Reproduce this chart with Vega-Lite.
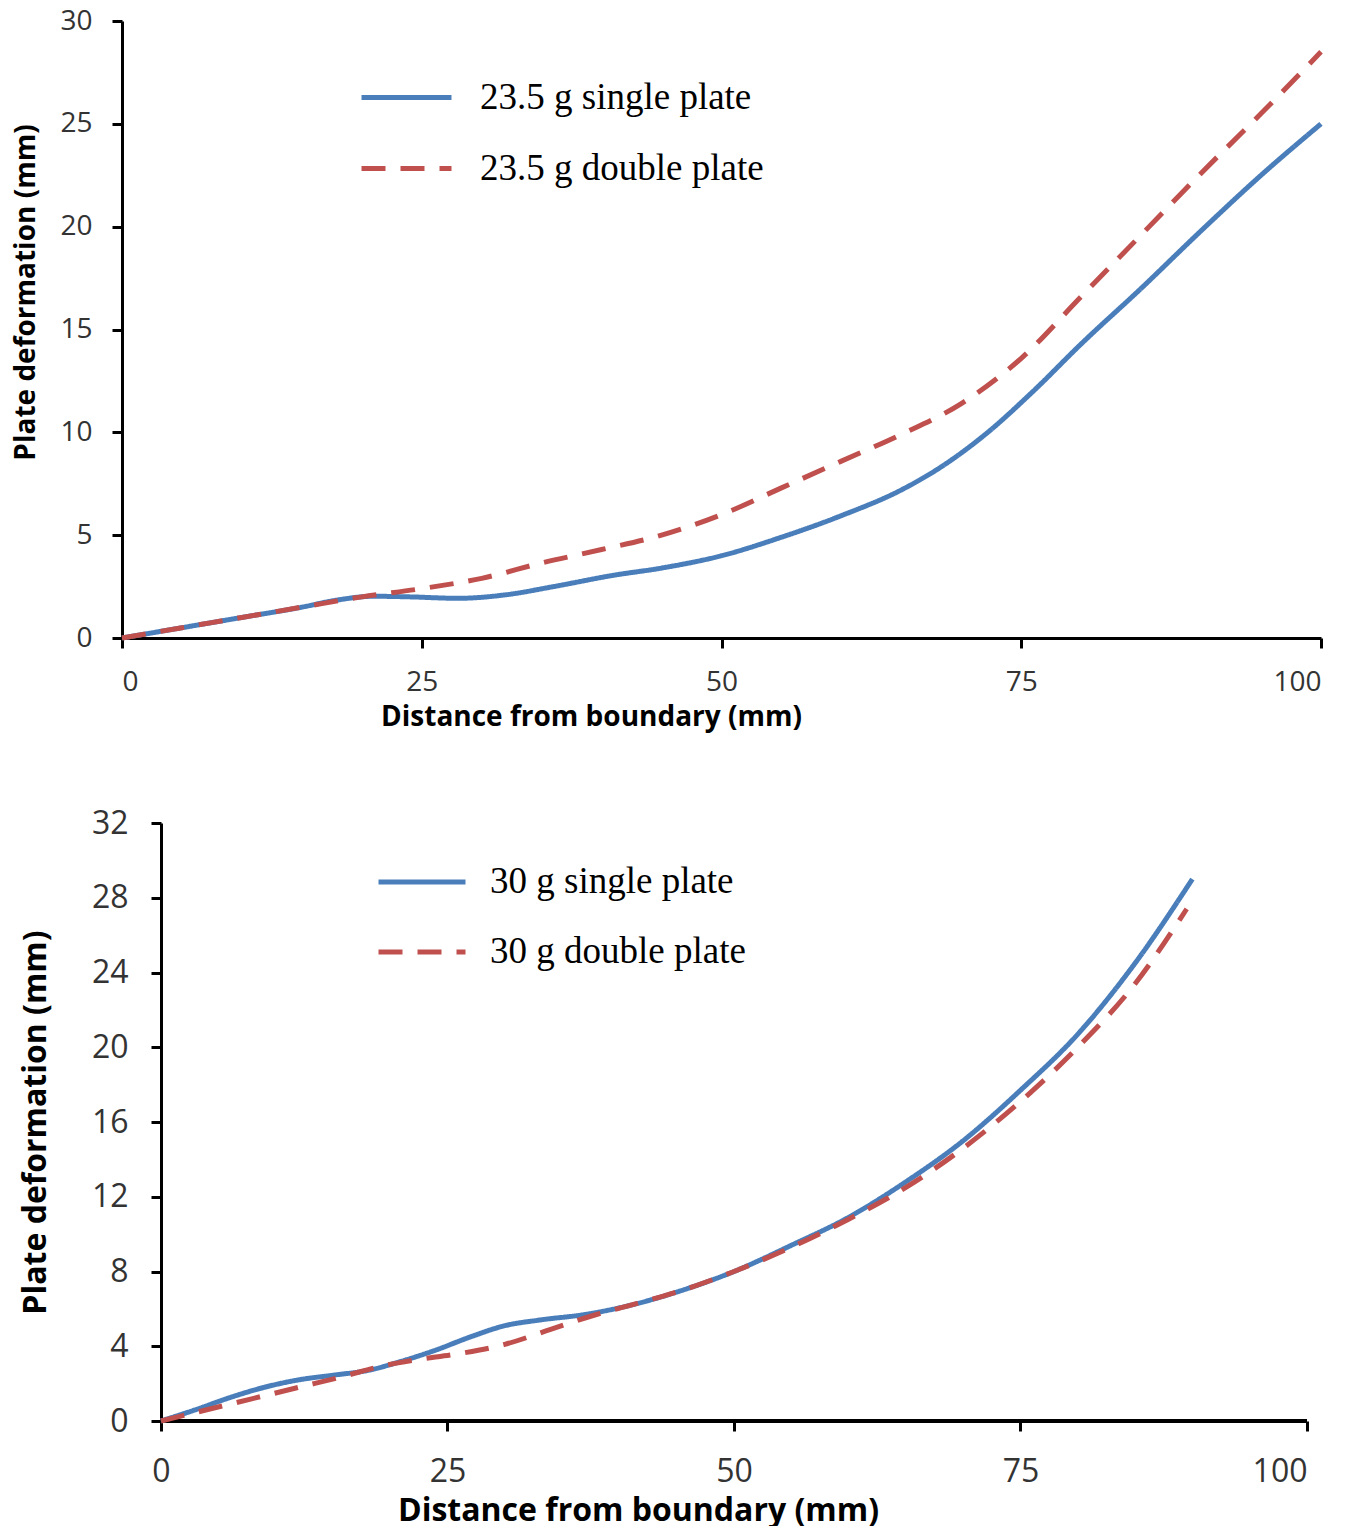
{
  "$schema": "https://vega.github.io/schema/vega-lite/v6.json",
  "background": "white",
  "padding": {"left": 12, "top": 7, "right": 20, "bottom": 0},
  "columns": 1,
  "align": "none",
  "spacing": 76,
  "config": {
    "view": {"stroke": null},
    "axis": {
      "grid": false,
      "domainColor": "black",
      "domainWidth": 3,
      "tickColor": "black",
      "tickWidth": 3,
      "tickSize": 10,
      "labelFont": "Open Sans",
      "labelColor": "#333333",
      "titleFont": "Open Sans",
      "titleFontWeight": "bold",
      "titleColor": "black"
    },
    "legend": {
      "orient": "none",
      "title": null,
      "symbolType": "stroke",
      "symbolSize": 8100,
      "symbolStrokeWidth": 5,
      "labelFont": "Liberation Serif",
      "labelFontSize": 37,
      "labelColor": "black",
      "labelLimit": 0
    }
  },
  "datasets": {
    "top": [
      {"series": "23.5 g single plate", "x": 0, "y": 0},
      {"series": "23.5 g single plate", "x": 5, "y": 0.5},
      {"series": "23.5 g single plate", "x": 10, "y": 1.0},
      {"series": "23.5 g single plate", "x": 15, "y": 1.5},
      {"series": "23.5 g single plate", "x": 18, "y": 1.85},
      {"series": "23.5 g single plate", "x": 21, "y": 2.03},
      {"series": "23.5 g single plate", "x": 24, "y": 2.0},
      {"series": "23.5 g single plate", "x": 28, "y": 1.93},
      {"series": "23.5 g single plate", "x": 32, "y": 2.1},
      {"series": "23.5 g single plate", "x": 36, "y": 2.5},
      {"series": "23.5 g single plate", "x": 41, "y": 3.05},
      {"series": "23.5 g single plate", "x": 45, "y": 3.4},
      {"series": "23.5 g single plate", "x": 50, "y": 4.0},
      {"series": "23.5 g single plate", "x": 55, "y": 4.9},
      {"series": "23.5 g single plate", "x": 60, "y": 5.95},
      {"series": "23.5 g single plate", "x": 65, "y": 7.2},
      {"series": "23.5 g single plate", "x": 68, "y": 8.2},
      {"series": "23.5 g single plate", "x": 72, "y": 9.9},
      {"series": "23.5 g single plate", "x": 76, "y": 12.0},
      {"series": "23.5 g single plate", "x": 80, "y": 14.3},
      {"series": "23.5 g single plate", "x": 85, "y": 17.0},
      {"series": "23.5 g single plate", "x": 90, "y": 19.8},
      {"series": "23.5 g single plate", "x": 95, "y": 22.5},
      {"series": "23.5 g single plate", "x": 100, "y": 25.0},
      {"series": "23.5 g double plate", "x": 0, "y": 0},
      {"series": "23.5 g double plate", "x": 5, "y": 0.5},
      {"series": "23.5 g double plate", "x": 10, "y": 1.0},
      {"series": "23.5 g double plate", "x": 15, "y": 1.5},
      {"series": "23.5 g double plate", "x": 20, "y": 2.0},
      {"series": "23.5 g double plate", "x": 25, "y": 2.4},
      {"series": "23.5 g double plate", "x": 30, "y": 2.9},
      {"series": "23.5 g double plate", "x": 35, "y": 3.65},
      {"series": "23.5 g double plate", "x": 40, "y": 4.3},
      {"series": "23.5 g double plate", "x": 45, "y": 5.0},
      {"series": "23.5 g double plate", "x": 50, "y": 6.0},
      {"series": "23.5 g double plate", "x": 55, "y": 7.3},
      {"series": "23.5 g double plate", "x": 60, "y": 8.6},
      {"series": "23.5 g double plate", "x": 65, "y": 9.9},
      {"series": "23.5 g double plate", "x": 70, "y": 11.4},
      {"series": "23.5 g double plate", "x": 75, "y": 13.6},
      {"series": "23.5 g double plate", "x": 80, "y": 16.6},
      {"series": "23.5 g double plate", "x": 85, "y": 19.6},
      {"series": "23.5 g double plate", "x": 90, "y": 22.6},
      {"series": "23.5 g double plate", "x": 95, "y": 25.5},
      {"series": "23.5 g double plate", "x": 100, "y": 28.5}
    ],
    "bottom": [
      {"series": "30 g single plate", "x": 0, "y": 0},
      {"series": "30 g single plate", "x": 3, "y": 0.6},
      {"series": "30 g single plate", "x": 6, "y": 1.25},
      {"series": "30 g single plate", "x": 9, "y": 1.8},
      {"series": "30 g single plate", "x": 12, "y": 2.2},
      {"series": "30 g single plate", "x": 15, "y": 2.45},
      {"series": "30 g single plate", "x": 18, "y": 2.7},
      {"series": "30 g single plate", "x": 21, "y": 3.2},
      {"series": "30 g single plate", "x": 24, "y": 3.8},
      {"series": "30 g single plate", "x": 27, "y": 4.5},
      {"series": "30 g single plate", "x": 30, "y": 5.1},
      {"series": "30 g single plate", "x": 33, "y": 5.4},
      {"series": "30 g single plate", "x": 37, "y": 5.7},
      {"series": "30 g single plate", "x": 41, "y": 6.2},
      {"series": "30 g single plate", "x": 45, "y": 6.9},
      {"series": "30 g single plate", "x": 50, "y": 8.0},
      {"series": "30 g single plate", "x": 55, "y": 9.4},
      {"series": "30 g single plate", "x": 60, "y": 10.9},
      {"series": "30 g single plate", "x": 65, "y": 12.8},
      {"series": "30 g single plate", "x": 70, "y": 15.0},
      {"series": "30 g single plate", "x": 75, "y": 17.7},
      {"series": "30 g single plate", "x": 80, "y": 20.7},
      {"series": "30 g single plate", "x": 85, "y": 24.5},
      {"series": "30 g single plate", "x": 90, "y": 29.0},
      {"series": "30 g double plate", "x": 0, "y": 0},
      {"series": "30 g double plate", "x": 4, "y": 0.6},
      {"series": "30 g double plate", "x": 8, "y": 1.2},
      {"series": "30 g double plate", "x": 12, "y": 1.8},
      {"series": "30 g double plate", "x": 16, "y": 2.4},
      {"series": "30 g double plate", "x": 19, "y": 2.9},
      {"series": "30 g double plate", "x": 22, "y": 3.25},
      {"series": "30 g double plate", "x": 26, "y": 3.6},
      {"series": "30 g double plate", "x": 30, "y": 4.1},
      {"series": "30 g double plate", "x": 34, "y": 4.9},
      {"series": "30 g double plate", "x": 38, "y": 5.7},
      {"series": "30 g double plate", "x": 41, "y": 6.2},
      {"series": "30 g double plate", "x": 45, "y": 6.9},
      {"series": "30 g double plate", "x": 50, "y": 8.0},
      {"series": "30 g double plate", "x": 55, "y": 9.3},
      {"series": "30 g double plate", "x": 60, "y": 10.8},
      {"series": "30 g double plate", "x": 65, "y": 12.5},
      {"series": "30 g double plate", "x": 70, "y": 14.6},
      {"series": "30 g double plate", "x": 75, "y": 17.1},
      {"series": "30 g double plate", "x": 80, "y": 20.0},
      {"series": "30 g double plate", "x": 85, "y": 23.4},
      {"series": "30 g double plate", "x": 89.5, "y": 27.4}
    ]
  },
  "resolve": {"scale": {"color": "independent", "strokeDash": "independent"}, "legend": {"color": "independent", "strokeDash": "independent"}},
  "concat": [
    {
      "width": 1199,
      "height": 617,
      "data": {"name": "top"},
      "mark": {"type": "line", "interpolate": "monotone", "strokeWidth": 5},
      "encoding": {
        "x": {"field": "x", "type": "quantitative", "scale": {"domain": [0, 100], "nice": false},
          "axis": {"values": [0, 25, 50, 75, 100], "title": "Distance from boundary (mm)", "labelFontSize": 28, "labelPadding": 20, "titleFontSize": 28, "titlePadding": 7, "titleX": 469, "titleAlign": "center"}},
        "y": {"field": "y", "type": "quantitative", "scale": {"domain": [0, 30], "nice": false},
          "axis": {"values": [0, 5, 10, 15, 20, 25, 30], "title": "Plate deformation (mm)", "labelFontSize": 28, "labelPadding": 20, "titleFontSize": 28, "titlePadding": 19, "titleY": 271, "titleAlign": "center"}},
        "color": {"field": "series", "type": "nominal",
          "scale": {"domain": ["23.5 g single plate", "23.5 g double plate"], "range": ["#4a7ebb", "#c0504d"]},
          "legend": {"legendX": 237, "legendY": 29, "rowPadding": 5, "labelOffset": 26}},
        "strokeDash": {"field": "series", "type": "nominal",
          "scale": {"domain": ["23.5 g single plate", "23.5 g double plate"], "range": [[1, 0], [24, 15]]},
          "legend": {"legendX": 237, "legendY": 29, "rowPadding": 5, "labelOffset": 26}}
      }
    },
    {
      "width": 1185,
      "height": 598,
      "data": {"name": "bottom"},
      "encoding": {
        "x": {"field": "x", "type": "quantitative", "scale": {"domain": [-3.4, 100], "nice": false},
          "axis": {"values": [0, 25, 50, 75, 100], "domain": false, "title": "Distance from boundary (mm)", "labelFontSize": 32, "labelPadding": 25, "titleFontSize": 32, "titlePadding": 8, "titleX": 516, "titleAlign": "center"}},
        "y": {"field": "y", "type": "quantitative", "scale": {"domain": [0, 32], "nice": false},
          "axis": {"offset": -39, "values": [0, 4, 8, 12, 16, 20, 24, 28, 32], "title": "Plate deformation (mm)", "labelFontSize": 32, "labelPadding": 23, "titleFontSize": 32, "titlePadding": 39}}
      },
      "layer": [
        {
          "mark": {"type": "rule", "color": "black", "strokeWidth": 3},
          "encoding": {
            "x": {"datum": 0},
            "x2": {"datum": 100},
            "y": {"datum": 0}
          }
        },
        {
          "mark": {"type": "line", "interpolate": "monotone", "strokeWidth": 5},
          "encoding": {
            "color": {"field": "series", "type": "nominal",
              "scale": {"domain": ["30 g single plate", "30 g double plate"], "range": ["#4a7ebb", "#c0504d"]},
              "legend": {"legendX": 254, "legendY": 13, "rowPadding": 6, "labelOffset": 22, "symbolSize": 7569}},
            "strokeDash": {"field": "series", "type": "nominal",
              "scale": {"domain": ["30 g single plate", "30 g double plate"], "range": [[1, 0], [24, 15]]},
              "legend": {"legendX": 254, "legendY": 13, "rowPadding": 6, "labelOffset": 22, "symbolSize": 7569}}
          }
        }
      ]
    }
  ]
}
